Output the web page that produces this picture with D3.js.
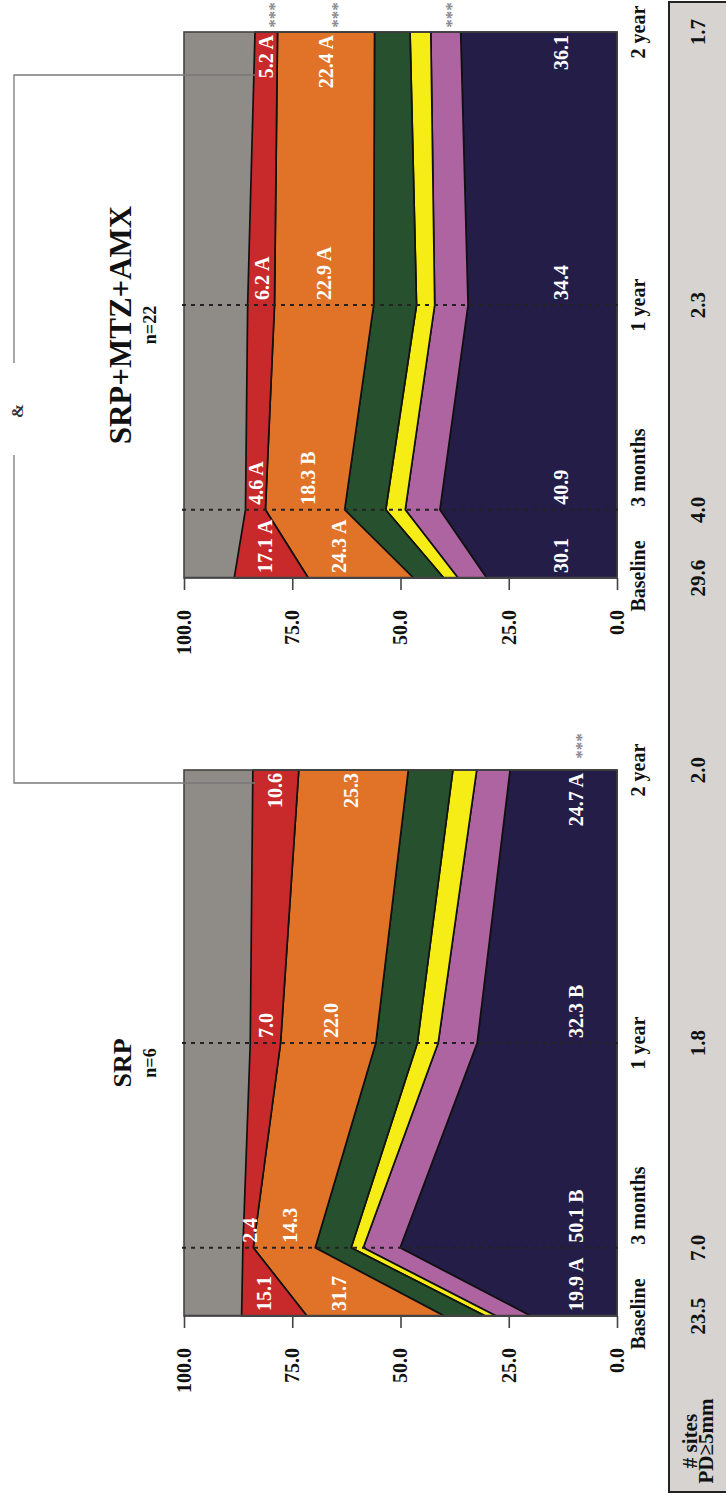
<!DOCTYPE html>
<html>
<head>
<meta charset="utf-8">
<script src="https://cdn.jsdelivr.net/npm/d3@7"></script>
<style>
  html, body { margin: 0; padding: 0; background: #ffffff; }
  svg { display: block; }
  text { font-family: "Liberation Serif", "Times New Roman", serif; font-weight: bold; }
</style>
</head>
<body>
<script>
// ---------------- DATA ----------------
const timeMonths = [0, 3, 12, 24];
const timeLabels = ["Baseline", "3 months", "1 year", "2 year"];
const layerKeys = ["navy", "pink", "yellow", "green", "orange", "red"];

// SRP (n=6) – % of sites per layer, bottom to top
const srpNavy   = [19.9, 50.1, 32.3, 24.7];
const srpPink   = [8.0, 8.5, 9.0, 7.7];
const srpYellow = [2.5, 2.8, 4.8, 5.5];
const srpGreen  = [9.5, 8.3, 9.6, 10.3];
const srpOrange = [31.7, 14.3, 22.0, 25.3];
const srpRed    = [15.1, 2.4, 7.0, 10.6];
const srpNavyLetters   = ["A", "B", "B", "A"];
const srpOrangeLetters = ["", "", "", ""];
const srpRedLetters    = ["", "", "", ""];
const srpSites = [23.5, 7.0, 1.8, 2.0];

// SRP+MTZ+AMX (n=22)
const amxNavy   = [30.1, 40.9, 34.4, 36.1];
const amxPink   = [6.6, 8.0, 7.7, 6.9];
const amxYellow = [3.3, 4.5, 4.2, 4.8];
const amxGreen  = [7.0, 9.5, 9.9, 8.2];
const amxOrange = [24.3, 18.3, 22.9, 22.4];
const amxRed    = [17.1, 4.6, 6.2, 5.2];
const amxNavyLetters   = ["", "", "", ""];
const amxOrangeLetters = ["A", "B", "A", "A"];
const amxRedLetters    = ["A", "A", "A", "A"];
const amxSites = [29.6, 4.0, 2.3, 1.7];

const yTicks = [0, 25, 50, 75, 100];
const sitesLabel = ["# sites", "PD\u22655mm"];

// ---------------- STYLE ----------------
const colors = {
  gray: "#8f8b87", navy: "#231d48", pink: "#ad64a0", yellow: "#f6ec16",
  green: "#27502f", orange: "#e07327", red: "#c8292a"
};

const PAGE_W = 726, PAGE_H = 1497;
const svg = d3.select("body").append("svg").attr("width", PAGE_W).attr("height", PAGE_H);
svg.append("rect").attr("width", PAGE_W).attr("height", PAGE_H).attr("fill", "#fff");
// whole figure is rotated: drawn in a 1497 x 726 frame
const g = svg.append("g").attr("transform", `translate(0,${PAGE_H}) rotate(-90)`);

const y = d3.scaleLinear().domain([0, 100]).range([617, 184]);

function buildRows(arrs) {
  return timeMonths.map((t, i) => {
    const r = { t };
    layerKeys.forEach((k, j) => r[k] = arrs[j][i]);
    return r;
  });
}

const panels = [
  { title: "SRP", n: "n=6", x0: 181, x1: 727, titleSize: 26, starDx: 24,
    rows: buildRows([srpNavy, srpPink, srpYellow, srpGreen, srpOrange, srpRed]),
    letters: { navy: srpNavyLetters, orange: srpOrangeLetters, red: srpRedLetters },
    vals: { navy: srpNavy, orange: srpOrange, red: srpRed },
    navyLabelValue: 9.5, sites: srpSites,
    stars: [{ v: 9.2 }] },
  { title: "SRP+MTZ+AMX", n: "n=22", x0: 919, x1: 1465, titleSize: 31, starDx: 17,
    rows: buildRows([amxNavy, amxPink, amxYellow, amxGreen, amxOrange, amxRed]),
    letters: { navy: amxNavyLetters, orange: amxOrangeLetters, red: amxRedLetters },
    vals: { navy: amxNavy, orange: amxOrange, red: amxRed },
    navyLabelValue: 13, sites: amxSites,
    stars: [{ v: 79.9 }, { v: 65.5 }, { v: 39.0 }] }
];

// sites table strip (bottom of the original figure)
g.append("rect").attr("x", 5).attr("y", 669).attr("width", 1490).attr("height", 80)
  .attr("fill", "#d6d3d0").attr("stroke", "#222").attr("stroke-width", 2);
const sl = g.append("text").attr("x", 56).attr("y", 697).attr("text-anchor", "middle")
  .attr("font-size", 21).attr("fill", "#111");
sl.append("tspan").attr("x", 56).attr("y", 697).text(sitesLabel[0]);
sl.append("tspan").attr("x", 56).attr("y", 713).text(sitesLabel[1]);

panels.forEach(p => {
  const x = d3.scaleLinear().domain([0, 24]).range([p.x0, p.x1]);
  const stack = d3.stack().keys(layerKeys)(p.rows);
  const pg = g.append("g");

  // gray background (remaining share up to 100 %)
  pg.append("rect").attr("x", p.x0).attr("y", y(100))
    .attr("width", p.x1 - p.x0).attr("height", y(0) - y(100))
    .attr("fill", colors.gray);

  const area = d3.area().x(d => x(d.data.t)).y0(d => y(d[0])).y1(d => y(d[1]));
  pg.selectAll("path.layer").data(stack).join("path").attr("class", "layer")
    .attr("d", area).attr("fill", d => colors[d.key])
    .attr("stroke", "#111").attr("stroke-width", 1.7).attr("stroke-linejoin", "round");

  // border
  pg.append("rect").attr("x", p.x0).attr("y", y(100))
    .attr("width", p.x1 - p.x0).attr("height", y(0) - y(100))
    .attr("fill", "none").attr("stroke", "#444").attr("stroke-width", 1.6);

  // dotted lines at 3 months and 1 year
  pg.selectAll("line.dot").data([timeMonths[1], timeMonths[2]]).join("line")
    .attr("x1", d => x(d)).attr("x2", d => x(d)).attr("y1", y(100) - 2).attr("y2", y(0) + 2)
    .attr("stroke", "#222").attr("stroke-width", 2).attr("stroke-dasharray", "4,5");

  // y axis
  const ax = pg.append("g").attr("transform", `translate(${p.x0},0)`)
    .call(d3.axisLeft(y).tickValues(yTicks).tickFormat(d3.format(".1f"))
      .tickSize(12).tickSizeOuter(0).tickPadding(20));
  ax.select(".domain").attr("stroke", "#444").attr("stroke-width", 1.6);
  ax.selectAll(".tick line").attr("stroke", "#444").attr("stroke-width", 1.6);
  ax.selectAll(".tick text").attr("font-size", 20).attr("fill", "#111")
    .attr("font-family", "Liberation Serif, Times New Roman, serif").attr("font-weight", "bold");

  // time labels
  const anchors = ["middle", "start", "middle", "middle"];
  const offs = [2, 3, 0, 0];
  pg.selectAll("text.time").data(timeMonths).join("text").attr("class", "time")
    .attr("x", (d, i) => x(d) + offs[i]).attr("y", 645)
    .attr("text-anchor", (d, i) => anchors[i]).attr("font-size", 20).attr("fill", "#111")
    .text((d, i) => timeLabels[i]);

  // sites numbers
  pg.selectAll("text.sites").data(p.sites).join("text").attr("class", "sites")
    .attr("x", (d, i) => x(timeMonths[i])).attr("y", 705)
    .attr("text-anchor", "middle").attr("font-size", 21).attr("fill", "#111")
    .text(d => d.toFixed(1));

  // titles
  const cx = (p.x0 + p.x1) / 2 - 20;
  pg.append("text").attr("x", cx).attr("y", 131).attr("text-anchor", "middle")
    .attr("font-size", p.titleSize).attr("fill", "#111").text(p.title);
  pg.append("text").attr("x", cx).attr("y", 156).attr("text-anchor", "middle")
    .attr("font-size", 18).attr("fill", "#111").text(p.n);

  // value labels inside bands
  const layerIdx = k => layerKeys.indexOf(k);
  function bandAt(k, xx) {
    const s = stack[layerIdx(k)];
    const t = x.invert(xx);
    let i = 0;
    while (i < timeMonths.length - 2 && t > timeMonths[i + 1]) i++;
    const f = (t - timeMonths[i]) / (timeMonths[i + 1] - timeMonths[i]);
    const lo = s[i][0] + f * (s[i + 1][0] - s[i][0]);
    const hi = s[i][1] + f * (s[i + 1][1] - s[i][1]);
    return (lo + hi) / 2;
  }
  ["navy", "orange", "red"].forEach(k => {
    p.vals[k].forEach((v, i) => {
      const last = i === timeMonths.length - 1;
      const xx = last ? x(timeMonths[i]) - 3 : x(timeMonths[i]) + 5;
      const cxl = last ? xx - 22 : xx + 22;
      const vv = k === "navy" ? p.navyLabelValue : bandAt(k, cxl);
      const lt = p.letters[k][i];
      pg.append("text").attr("x", xx).attr("y", y(vv)).attr("dy", "0.35em")
        .attr("text-anchor", last ? "end" : "start").attr("font-size", 20)
        .attr("fill", "#fff").text(v.toFixed(1) + (lt ? " " + lt : ""));
    });
  });

  // significance stars
  p.stars.forEach(s => {
    pg.append("text").attr("x", p.x1 + p.starDx).attr("y", y(s.v)).attr("dy", "0.55em")
      .attr("text-anchor", "middle").attr("font-size", 17).attr("font-weight", "normal")
      .attr("fill", "#8a8a8a").text("***");
  });
});

// bracket between the panels with "&"
g.append("path").attr("d", "M714,255 V14 H1042 M1134,14 H1422 V255")
  .attr("fill", "none").attr("stroke", "#7a7a7a").attr("stroke-width", 1.3);
g.append("text").attr("x", 1086).attr("y", 17).attr("dy", "0.35em")
  .attr("text-anchor", "middle").attr("font-size", 17).attr("font-weight", "normal")
  .attr("fill", "#333").text("&");
</script>
</body>
</html>
